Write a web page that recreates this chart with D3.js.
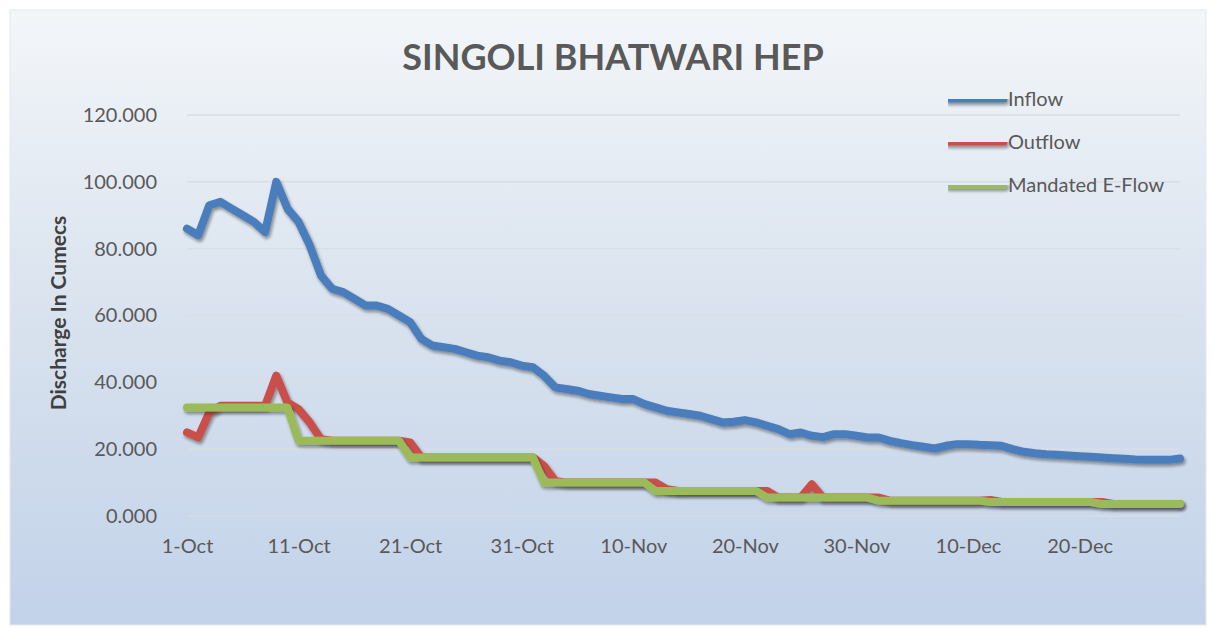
<!DOCTYPE html>
<html>
<head>
<meta charset="utf-8">
<script src="https://cdn.jsdelivr.net/npm/d3@7"></script>
<style>
  html, body { margin: 0; padding: 0; background: #ffffff; }
  svg { display: block; }
  text { font-family: Lato, "Open Sans", sans-serif; }
</style>
</head>
<body>
<div id="chart"></div>
<script>
// series values (cumecs), one per day from 1-Oct
const inflow = [
  86, 84, 93, 94, 92, 90, 88, 85, 100, 92,
  88, 81, 72, 68, 67, 65, 63, 63, 62, 60,
  58, 53, 51, 50.5, 50, 49, 48, 47.5, 46.5, 46,
  45, 44.5, 42, 38.5, 38, 37.5, 36.5, 36, 35.5, 35,
  35, 33.5, 32.5, 31.5, 31, 30.5, 30, 29, 28, 28.2,
  28.7, 28, 27, 26, 24.5, 25, 24, 23.6, 24.5, 24.5,
  24, 23.5, 23.5, 22.5, 21.8, 21.2, 20.7, 20.2, 21, 21.5,
  21.5, 21.3, 21.2, 21, 20, 19.2, 18.8, 18.5, 18.3, 18.1,
  17.9, 17.7, 17.5, 17.3, 17.1, 16.9, 16.8, 16.8, 16.8, 17.2
];
const outflow = [
  25, 23.5, 31, 33, 33, 33, 33, 33, 42, 34,
  32, 28, 23, 22.5, 22.5, 22.5, 22.5, 22.5, 22.5, 22.5,
  22, 17.5, 17.5, 17.5, 17.5, 17.5, 17.5, 17.5, 17.5, 17.5,
  17.5, 17.5, 15, 10.5, 10, 10, 10, 10, 10, 10,
  10, 10, 10, 8, 7.5, 7.5, 7.5, 7.5, 7.5, 7.5,
  7.5, 7.5, 7.5, 5.5, 5.5, 5.5, 9.5, 5.5, 5.5, 5.5,
  5.5, 5.5, 5.5, 4.6, 4.6, 4.6, 4.6, 4.6, 4.6, 4.6,
  4.6, 4.6, 4.8, 4.2, 4.2, 4.2, 4.2, 4.2, 4.2, 4.2,
  4.2, 4.2, 4.2, 3.6, 3.6, 3.6, 3.6, 3.6, 3.6, 3.6
];
const eflow = [
  32.5, 32.5, 32.5, 32.5, 32.5, 32.5, 32.5, 32.5, 32.5, 32.5,
  22.5, 22.5, 22.5, 22.5, 22.5, 22.5, 22.5, 22.5, 22.5, 22.5,
  17.5, 17.5, 17.5, 17.5, 17.5, 17.5, 17.5, 17.5, 17.5, 17.5,
  17.5, 17.5, 10, 10, 10, 10, 10, 10, 10, 10,
  10, 10, 7.5, 7.5, 7.5, 7.5, 7.5, 7.5, 7.5, 7.5,
  7.5, 7.5, 5.5, 5.5, 5.5, 5.5, 5.5, 5.5, 5.5, 5.5,
  5.5, 5.5, 4.6, 4.6, 4.6, 4.6, 4.6, 4.6, 4.6, 4.6,
  4.6, 4.6, 4.2, 4.2, 4.2, 4.2, 4.2, 4.2, 4.2, 4.2,
  4.2, 4.2, 3.6, 3.6, 3.6, 3.6, 3.6, 3.6, 3.6, 3.6
];

const seriesNames = ["Inflow", "Outflow", "Mandated E-Flow"];
const seriesColors = ["#4a7dbb", "#c9504c", "#9bbb59"];
const xTickLabels = ["1-Oct", "11-Oct", "21-Oct", "31-Oct", "10-Nov", "20-Nov", "30-Nov", "10-Dec", "20-Dec"];
const yTicks = [0, 20, 40, 60, 80, 100, 120];
const startDay = "1-Oct";

const parseDay = d3.timeParse("%d-%b");
const formatDay = d3.timeFormat("%-d-%b");

// one date per reading, counted on from the first day
const dates = inflow.map((v, i) => d3.timeDay.offset(parseDay(startDay), i));

const W = 1213, H = 632;
const plot = { left: 187, right: 1180, top: 115, bottom: 516 };

const svg = d3.select("#chart").append("svg")
    .attr("width", W)
    .attr("height", H);

const defs = svg.append("defs");

// chart area background, light at the top and blue at the bottom
const grad = defs.append("linearGradient")
    .attr("id", "bg")
    .attr("x1", 0).attr("y1", 0).attr("x2", 0).attr("y2", 1);
grad.append("stop").attr("offset", "0%").attr("stop-color", "#f3f6f9");
grad.append("stop").attr("offset", "45%").attr("stop-color", "#dbe4ef");
grad.append("stop").attr("offset", "100%").attr("stop-color", "#c2d2e9");

// soft shadow under each line (user space so flat legend lines keep it too)
const shadow = defs.append("filter")
    .attr("id", "shadow")
    .attr("filterUnits", "userSpaceOnUse")
    .attr("x", 0).attr("y", 0).attr("width", W).attr("height", H);
shadow.append("feDropShadow")
    .attr("dx", 1.5).attr("dy", 2.5)
    .attr("stdDeviation", 1.5)
    .attr("flood-color", "#1a1a1a")
    .attr("flood-opacity", 0.45);

svg.append("rect")
    .attr("x", 10).attr("y", 10)
    .attr("width", 1196).attr("height", 615)
    .attr("fill", "url(#bg)")
    .attr("stroke", "#e4e8ee");

// scales
const x = d3.scaleTime()
    .domain([dates[0], dates[dates.length - 1]])
    .range([plot.left, plot.right]);

const y = d3.scaleLinear()
    .domain([0, 120])
    .range([plot.bottom, plot.top]);

// horizontal gridlines
svg.append("g")
    .selectAll("line")
    .data(yTicks)
    .enter()
    .append("line")
    .attr("x1", plot.left)
    .attr("x2", plot.right)
    .attr("y1", d => y(d))
    .attr("y2", d => y(d))
    .attr("stroke", "#d9dee5")
    .attr("stroke-width", 1.5);

// y axis
const yAxis = svg.append("g")
    .attr("transform", `translate(${plot.left - 27},0)`)
    .call(d3.axisLeft(y).tickValues(yTicks).tickSize(0).tickFormat(d3.format(".3f")));
yAxis.select(".domain").remove();
yAxis.selectAll("text")
    .attr("font-size", 20)
    .attr("fill", "#595959")
    .attr("dx", 0);

// x axis
const xAxis = svg.append("g")
    .attr("transform", `translate(0,${plot.bottom + 20})`)
    .call(d3.axisBottom(x)
        .tickValues(xTickLabels.map(parseDay))
        .tickSize(0)
        .tickFormat(formatDay));
xAxis.select(".domain").remove();
xAxis.selectAll("text")
    .attr("font-size", 20)
    .attr("fill", "#595959");

// lines, inflow first so the e-flow sits on top
const allSeries = [inflow, outflow, eflow];
const line = d3.line()
    .x((d, i) => x(dates[i]))
    .y(d => y(d));

svg.append("g")
    .selectAll("path")
    .data(allSeries)
    .enter()
    .append("path")
    .attr("d", d => line(d))
    .attr("fill", "none")
    .attr("stroke", (d, i) => seriesColors[i])
    .attr("stroke-width", 8)
    .attr("stroke-linejoin", "round")
    .attr("stroke-linecap", "round")
    .attr("filter", "url(#shadow)");

// title
svg.append("text")
    .attr("x", 613)
    .attr("y", 70)
    .attr("text-anchor", "middle")
    .attr("font-size", 36)
    .attr("font-weight", "bold")
    .attr("fill", "#595959")
    .text("SINGOLI BHATWARI HEP");

// y axis title
svg.append("text")
    .attr("transform", "translate(66,313) rotate(-90)")
    .attr("text-anchor", "middle")
    .attr("font-size", 21)
    .attr("font-weight", "bold")
    .attr("fill", "#404040")
    .text("Discharge In Cumecs");

// legend
const legend = svg.append("g")
    .selectAll("g")
    .data(seriesNames)
    .enter()
    .append("g")
    .attr("transform", (d, i) => `translate(948,${99 + i * 43})`);

legend.append("line")
    .attr("x1", 0).attr("x2", 56)
    .attr("y1", 0).attr("y2", 0)
    .attr("stroke", (d, i) => seriesColors[i])
    .attr("stroke-width", 7)
    .attr("stroke-linecap", "round")
    .attr("filter", "url(#shadow)");

legend.append("text")
    .attr("x", 60)
    .attr("dy", "0.35em")
    .attr("font-size", 20)
    .attr("fill", "#595959")
    .text(d => d);
</script>
</body>
</html>
